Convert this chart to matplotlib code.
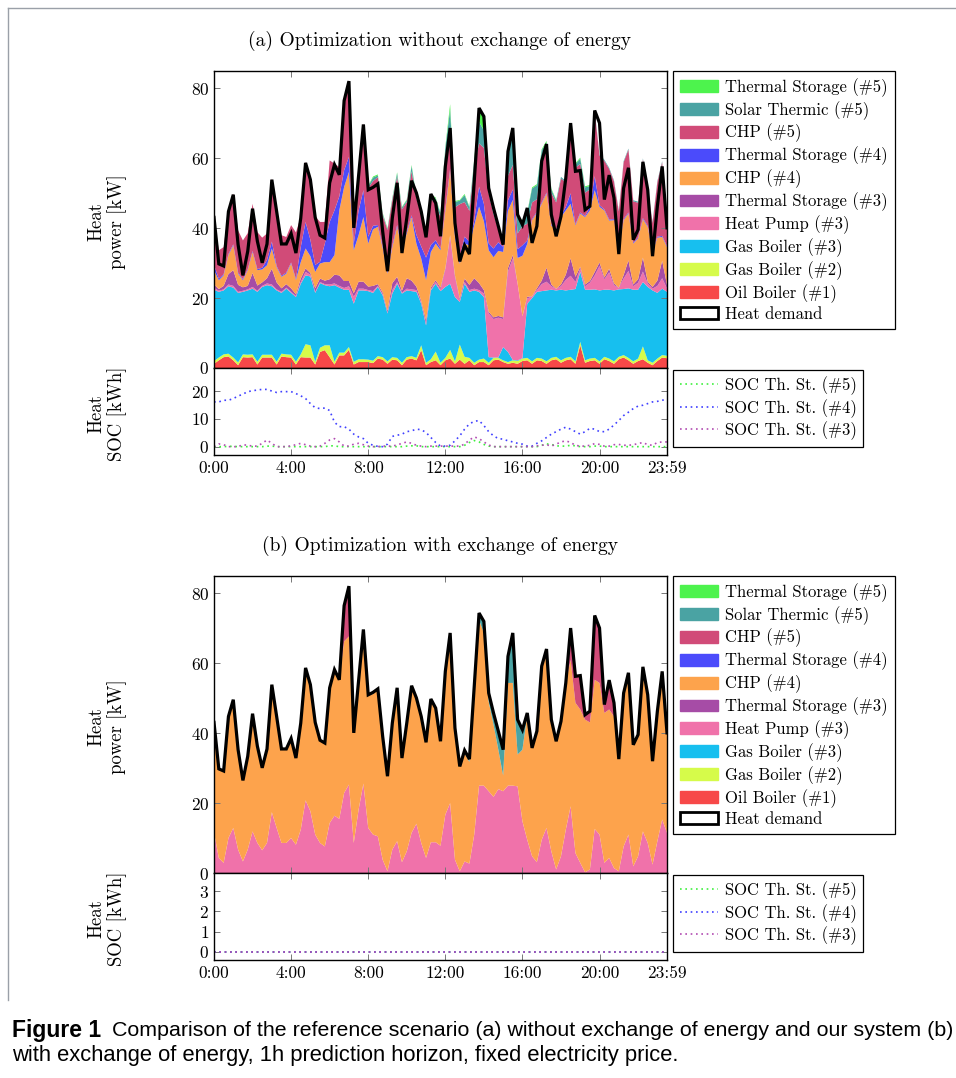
import matplotlib
matplotlib.use('Agg')
import matplotlib.pyplot as plt
import numpy as np
from matplotlib.patches import Patch
from matplotlib.lines import Line2D

plt.rcParams['font.family'] = ['cmr10', 'DejaVu Serif']
plt.rcParams['axes.formatter.use_mathtext'] = True
plt.rcParams['mathtext.fontset'] = 'cm'

# time axis: 15 min steps, 0:00 .. 23:30
hours = np.arange(95) * 0.25

demand = [43.1, 29.8, 29.2, 44.8, 49.6, 35.3, 26.5, 33.4, 45.6, 36.3, 30.1, 35.5, 53.9, 44.8, 35.5, 35.5,
          38.5, 32.9, 42.9, 58.7, 53.9, 43.1, 38.0, 37.2, 53.0, 58.2, 55.3, 76.5, 82.1, 40.1, 55.0, 69.7,
          51.0, 51.7, 52.7, 39.1, 27.7, 42.9, 53.0, 32.9, 42.9, 53.6, 50.1, 44.8, 37.4, 49.8, 47.2, 37.7,
          57.7, 68.7, 41.5, 30.5, 35.1, 32.6, 53.4, 74.4, 72.0, 51.5, 45.8, 40.6, 35.3, 62.0, 68.7, 43.9,
          41.0, 45.8, 35.8, 40.6, 59.2, 64.1, 43.9, 37.7, 43.4, 54.4, 70.1, 56.3, 56.5, 45.3, 46.3, 73.7,
          70.1, 48.2, 55.2, 48.7, 32.6, 51.5, 57.3, 36.7, 39.6, 59.0, 51.0, 32.0, 46.3, 57.7, 40.1]

# ---------- (a) without exchange ----------
a_oil = [1.2, 2.2, 3.1, 3.3, 2.2, 0.8, 3.1, 3.0, 3.1, 1.0, 3.0, 3.0, 3.0, 1.0, 3.3, 3.1,
         3.0, 1.0, 3.1, 3.0, 3.0, 1.0, 4.6, 5.1, 3.1, 1.0, 3.6, 3.6, 5.2, 1.0, 1.7, 1.7,
         1.7, 1.4, 2.7, 2.4, 1.2, 2.4, 2.2, 0.8, 2.4, 2.7, 2.2, 5.1, 0.8, 1.7, 2.2, 0.8,
         2.2, 2.7, 1.2, 2.4, 1.2, 2.2, 0.8, 1.7, 1.7, 0.8, 2.2, 2.4, 1.7, 1.2, 1.5, 1.2,
         2.0, 2.2, 1.2, 2.2, 2.0, 1.2, 2.2, 2.5, 1.5, 2.2, 2.5, 1.2, 6.5, 1.5, 2.0, 2.2,
         1.2, 2.5, 2.0, 1.2, 2.5, 3.0, 2.2, 1.2, 2.0, 2.5, 1.5, 0.8, 2.0, 3.0, 2.8]
a_gas2 = [0.8, 0.8, 0.8, 0.8, 0.8, 0.8, 0.8, 0.8, 0.8, 0.8, 0.8, 0.8, 0.8, 0.8, 0.8, 0.8,
          0.8, 0.8, 0.8, 3.8, 3.5, 0.8, 1.2, 1.4, 3.4, 0.8, 0.8, 0.8, 0.8, 0.8, 0.8, 0.8,
          0.7, 0.7, 0.7, 0.7, 0.7, 0.7, 0.7, 0.7, 0.7, 0.7, 0.7, 1.4, 0.7, 0.8, 2.5, 0.7,
          0.7, 2.5, 0.7, 4.3, 2.0, 0.7, 0.7, 0.7, 1.0, 0.7, 0.7, 0.5, 0.5, 0.5, 0.7, 0.8,
          0.7, 0.7, 0.7, 0.7, 0.7, 0.7, 0.7, 0.7, 0.7, 0.7, 0.7, 0.7, 1.0, 0.7, 0.7, 0.7,
          0.7, 0.7, 0.7, 0.7, 0.7, 0.7, 0.7, 0.7, 0.7, 3.7, 0.7, 0.7, 0.7, 0.7, 0.7]
a_gas3 = [20.4, 18.8, 18.3, 19.3, 20.0, 19.9, 17.9, 18.4, 18.8, 20.0, 19.4, 19.9, 19.6, 20.4, 17.4, 18.8,
          17.7, 18.5, 20.2, 19.7, 19.7, 19.7, 18.5, 17.2, 16.9, 21.9, 18.6, 18.0, 16.4, 16.6, 19.7, 19.7,
          19.6, 19.4, 19.8, 17.7, 13.7, 18.2, 21.2, 19.8, 19.1, 18.6, 18.9, 11.9, 10.7, 19.7, 19.4, 20.5,
          20.3, 18.9, 18.4, 12.2, 20.9, 18.9, 20.7, 19.4, 17.6, 1.6, 0.1, 0.1, 3.8, 2.9, 0.1, 0.2,
          0.1, 15.5, 18.1, 18.9, 19.3, 20.3, 19.5, 19.0, 20.2, 19.3, 19.2, 20.7, 20.0, 20.2, 19.7, 19.6,
          20.3, 19.2, 19.7, 20.3, 19.3, 18.9, 19.9, 20.5, 19.7, 18.4, 21.0, 20.7, 18.8, 19.0, 18.3]
a_hp3 = [0.5, 0.3, 0.3, 0.5, 0.5, 0.3, 0.3, 0.3, 0.5, 0.3, 0.3, 0.5, 0.5, 0.3, 0.3, 0.3,
         0.3, 0.3, 0.5, 1.0, 0.5, 0.3, 0.3, 0.3, 0.5, 0.5, 0.5, 0.5, 1.0, 2.0, 0.5, 0.5,
         0.3, 0.5, 0.3, 0.3, 0.3, 1.0, 0.5, 0.3, 0.5, 0.5, 0.5, 0.3, 0.5, 0.3, 0.5, 0.5,
         4.8, 13.4, 5.7, 0.5, 0.5, 0.5, 0.5, 0.5, 1.0, 12.5, 11.0, 11.4, 8.0, 23.0, 29.0, 22.0,
         12.0, 1.5, 0.5, 0.5, 2.0, 2.5, 1.0, 0.5, 1.0, 3.0, 4.0, 2.0, 1.0, 1.0, 2.0, 4.0,
         7.0, 3.0, 5.0, 1.5, 0.5, 3.0, 5.0, 1.0, 2.0, 3.0, 1.0, 0.5, 2.0, 3.0, 1.0]
a_ts3 = [1.0, 0.5, 1.0, 3.0, 4.5, 2.0, 1.0, 1.0, 4.0, 1.5, 1.0, 1.5, 4.5, 2.0, 1.0, 1.0,
         1.0, 0.5, 1.0, 1.0, 0.5, 1.0, 1.0, 1.0, 1.5, 2.5, 3.0, 2.0, 1.5, 1.0, 2.0, 2.0,
         1.0, 1.5, 0.5, 0.5, 0.5, 2.0, 1.5, 0.5, 3.0, 2.5, 1.0, 0.5, 1.0, 0.5, 0.5, 0.5,
         0.5, 0.5, 0.5, 0.5, 1.0, 1.5, 3.0, 2.0, 1.0, 0.5, 0.5, 0.5, 0.5, 1.0, 1.0, 0.0,
         0.0, 0.5, 0.0, 0.5, 1.0, 4.0, 0.5, 0.0, 0.5, 1.5, 5.0, 1.5, 0.5, 0.5, 0.5, 1.0,
         1.0, 0.5, 1.0, 0.5, 0.0, 1.0, 3.0, 0.5, 1.0, 4.0, 0.5, 0.5, 1.5, 5.0, 1.0]
a_chp4 = [4.1, 2.5, 3.0, 5.4, 7.1, 3.2, 2.0, 4.5, 6.0, 4.4, 3.7, 3.7, 5.8, 4.4, 3.3, 3.0,
          7.1, 4.1, 4.7, 5.7, 4.8, 4.7, 4.3, 5.3, 4.9, 5.6, 18.6, 26.9, 31.2, 12.3, 13.3, 18.5,
          12.3, 16.2, 16.4, 12.8, 10.6, 10.3, 14.3, 12.4, 12.8, 18.2, 12.3, 12.1, 11.4, 10.2, 10.5, 10.7,
          16.6, 18.6, 11.0, 9.9, 10.0, 11.3, 15.1, 21.9, 19.7, 17.6, 17.2, 18.6, 18.7, 16.4, 15.8, 7.3,
          17.3, 15.1, 21.8, 21.6, 22.0, 21.2, 16.9, 16.7, 19.3, 18.4, 15.6, 14.7, 15.2, 19.3, 20.2, 23.4,
          15.9, 19.2, 13.8, 18.1, 11.6, 15.7, 13.4, 11.7, 11.7, 11.0, 15.7, 10.0, 12.3, 6.8, 10.8]
a_ts4 = [1.5, 0.5, 0.3, 0.3, 0.3, 0.3, 0.3, 0.3, 0.3, 0.3, 0.5, 1.5, 2.0, 0.3, 0.3, 0.3,
         0.3, 0.3, 4.3, 7.6, 4.7, 2.0, 0.5, 5.3, 11.5, 12.8, 4.0, 4.8, 4.3, 1.9, 7.0, 7.7,
         2.0, 1.0, 0.5, 0.5, 0.5, 0.5, 0.5, 0.5, 0.5, 0.5, 2.5, 3.5, 6.5, 2.0, 1.0, 0.5,
         0.5, 0.5, 1.5, 2.0, 2.0, 1.0, 1.5, 5.7, 5.0, 2.0, 2.5, 2.5, 1.5, 3.0, 3.0, 2.5,
         3.0, 1.0, 0.3, 0.3, 0.3, 0.3, 0.3, 0.3, 0.5, 1.0, 3.0, 0.3, 0.3, 0.3, 1.0, 4.0,
         0.5, 0.3, 0.3, 0.3, 0.3, 0.3, 0.3, 0.3, 0.3, 0.3, 0.3, 0.3, 0.3, 0.3, 0.3]
a_chp5 = [13.5, 8.1, 7.8, 12.5, 14.5, 12.1, 11.1, 10.3, 13.5, 10.6, 8.6, 7.6, 18.0, 15.9, 11.6, 10.2,
          10.7, 13.3, 8.6, 17.2, 18.2, 13.9, 11.4, 6.2, 17.6, 13.4, 8.4, 20.2, 21.9, 4.8, 11.6, 19.1,
          13.9, 12.8, 13.7, 8.8, 12.0, 12.9, 13.8, 10.4, 8.5, 12.6, 10.4, 9.4, 6.9, 13.3, 10.4, 9.0,
          15.4, 11.9, 7.0, 15.1, 9.9, 8.9, 15.1, 12.4, 16.0, 14.3, 9.8, 3.8, 0.8, 7.0, 7.0, 4.5,
          5.5, 4.8, 4.8, 3.6, 13.0, 13.3, 9.0, 7.7, 10.5, 7.1, 19.2, 16.2, 13.9, 6.7, 5.0, 18.4,
          14.2, 13.9, 14.5, 10.8, 9.9, 16.3, 18.0, 11.8, 9.9, 16.8, 10.9, 8.0, 15.6, 21.1, 5.2]
a_solar5 = [0.0, 0.0, 0.0, 0.0, 0.0, 0.0, 0.0, 0.0, 0.0, 0.0, 0.0, 0.0, 0.0, 0.0, 0.0, 0.0,
            0.0, 0.0, 0.0, 0.0, 0.0, 0.0, 0.0, 0.0, 0.0, 0.0, 0.0, 0.0, 0.0, 0.0, 0.0, 0.0,
            0.5, 1.0, 0.5, 0.5, 0.3, 0.5, 1.0, 0.5, 0.5, 1.5, 0.5, 0.5, 0.3, 1.0, 1.5, 1.0,
            2.0, 5.0, 1.5, 1.0, 2.0, 1.0, 2.0, 6.2, 5.0, 2.0, 1.5, 1.0, 0.5, 8.0, 10.0, 4.5,
            1.5, 3.0, 4.0, 4.0, 2.0, 1.0, 1.0, 0.5, 0.5, 0.3, 0.5, 1.0, 1.5, 1.5, 1.0, 0.3,
            0.3, 0.3, 0.3, 0.3, 0.3, 0.3, 0.3, 0.3, 0.3, 0.3, 0.3, 0.3, 0.3, 0.3, 0.3]
a_ts5 = [0.0, 0.0, 0.0, 0.0, 0.0, 0.0, 0.0, 0.0, 0.0, 0.0, 0.0, 0.0, 0.0, 0.0, 0.0, 0.0,
         0.0, 0.0, 0.0, 0.0, 0.0, 0.0, 0.0, 0.0, 0.0, 0.0, 0.0, 0.0, 0.0, 0.0, 0.0, 0.0,
         0.2, 0.3, 0.3, 0.2, 0.2, 0.2, 0.3, 0.2, 0.2, 0.3, 0.2, 0.2, 0.2, 0.2, 0.3, 0.2,
         0.3, 1.5, 0.3, 0.2, 0.3, 0.2, 0.3, 3.8, 4.0, 0.3, 0.2, 0.2, 0.0, 0.5, 0.5, 0.3,
         0.2, 0.3, 0.3, 0.3, 0.3, 0.5, 0.3, 0.2, 0.0, 0.0, 0.3, 0.3, 0.3, 0.3, 0.3, 0.0,
         0.0, 0.0, 0.0, 0.0, 0.0, 0.0, 0.0, 0.0, 0.0, 0.0, 0.0, 0.0, 0.0, 0.0, 0.0]

a_soc5 = [0.0, 0.0, 0.0, 0.1, 0.1, 0.0, 0.0, 0.0, 0.0, 0.0, 0.0, 0.2, 0.2, 0.0, 0.0, 0.0,
          0.0, 0.0, 0.0, 0.0, 0.0, 0.0, 0.0, 0.0, 0.3, 0.3, 0.0, 0.0, 0.0, 0.0, 0.0, 0.0,
          0.0, 0.0, 0.0, 0.0, 0.0, 0.0, 0.0, 0.0, 0.2, 0.3, 0.3, 0.0, 0.0, 0.0, 0.0, 0.0,
          0.0, 0.0, 0.0, 0.0, 0.5, 1.5, 2.2, 1.7, 0.8, 0.2, 0.0, 0.0, 0.0, 0.0, 0.0, 0.0,
          0.0, 0.0, 0.0, 0.0, 0.5, 1.0, 0.8, 0.3, 0.2, 0.2, 0.5, 0.3, 0.0, 0.0, 0.0, 0.2,
          0.2, 0.0, 0.0, 0.0, 0.0, 0.0, 0.0, 0.0, 0.0, 0.0, 0.0, 0.0, 0.0, 0.0, 0.0]
a_soc4 = [16.1, 16.1, 16.7, 16.7, 17.3, 18.2, 18.9, 19.8, 20.1, 20.4, 20.6, 20.6, 20.0, 19.5, 19.8, 19.8,
          19.8, 19.1, 18.3, 17.3, 15.5, 14.0, 13.7, 13.9, 13.0, 8.8, 7.2, 7.2, 6.3, 4.5, 3.5, 2.9,
          1.2, 0.5, 0.1, 0.0, 0.9, 3.7, 4.1, 4.5, 5.4, 5.7, 6.3, 6.1, 5.1, 3.3, 1.5, 0.2,
          0.2, 0.5, 2.1, 3.9, 6.3, 8.2, 9.1, 9.4, 7.6, 5.4, 3.9, 2.9, 2.7, 2.1, 1.7, 1.2,
          0.9, 0.2, 0.2, 1.2, 2.1, 3.3, 4.5, 5.4, 6.3, 7.0, 6.3, 5.4, 4.5, 5.4, 6.6, 6.3,
          5.4, 5.4, 6.3, 7.8, 9.4, 11.2, 12.4, 13.7, 14.6, 14.9, 15.5, 16.1, 16.3, 16.7, 17.0]
a_soc3 = [0.0, 1.0, 0.7, 0.0, 0.0, 0.0, 0.7, 0.5, 0.2, 0.2, 1.2, 2.4, 1.2, 0.0, 0.0, 0.0,
          0.3, 0.7, 1.2, 0.7, 0.2, 0.0, 0.2, 1.2, 2.4, 2.9, 1.7, 0.2, 0.2, 0.9, 1.2, 0.7,
          0.2, 0.0, 0.0, 0.2, 0.2, 0.2, 0.6, 1.2, 1.7, 1.2, 0.5, 0.2, 0.0, 0.2, 0.2, 0.2,
          0.2, 0.2, 0.2, 0.2, 0.9, 2.4, 3.5, 2.9, 1.7, 0.6, 0.0, 0.0, 0.0, 0.0, 0.0, 0.0,
          0.0, 0.0, 0.0, 0.3, 0.5, 0.7, 0.2, 0.9, 1.7, 2.1, 1.5, 0.5, 0.2, 0.2, 0.5, 1.1,
          0.8, 0.2, 0.2, 0.7, 0.8, 0.5, 0.5, 0.7, 1.1, 1.5, 0.7, 0.5, 1.5, 1.7, 1.7]

# ---------- (b) with exchange ----------
b_zero = [0.0] * 95
b_hp3 = [11.6, 4.3, 2.9, 10.0, 12.9, 6.7, 3.3, 6.7, 11.9, 8.6, 6.5, 8.6, 17.4, 12.9, 8.6, 8.6,
         10.0, 8.1, 12.4, 20.8, 17.7, 11.0, 8.6, 7.6, 14.3, 16.4, 15.5, 22.9, 25.3, 8.6, 18.1, 25.6,
         12.9, 11.0, 10.5, 3.8, 0.5, 6.7, 9.1, 3.1, 6.2, 11.5, 14.1, 8.6, 4.3, 8.8, 8.8, 7.8,
         16.7, 20.0, 3.8, 0.5, 3.3, 2.7, 11.0, 25.0, 25.0, 23.4, 21.8, 24.0, 23.4, 25.0, 25.0, 24.8,
         14.8, 9.5, 4.8, 3.1, 9.5, 12.9, 6.2, 1.0, 4.8, 12.4, 19.1, 5.7, 2.9, 0.2, 1.0, 12.6,
         11.0, 2.9, 4.3, 1.4, 0.5, 7.6, 11.0, 1.9, 4.8, 11.9, 8.6, 2.4, 9.1, 15.3, 11.5]
b_chp4 = [31.5, 25.5, 26.3, 34.8, 36.7, 28.6, 23.2, 26.7, 33.7, 27.7, 23.6, 26.9, 36.5, 31.9, 26.9, 26.9,
          28.5, 24.8, 30.5, 37.9, 36.2, 32.1, 29.4, 29.6, 38.7, 41.8, 39.8, 43.4, 42.4, 31.5, 36.9, 43.6,
          38.1, 40.2, 42.2, 35.3, 27.2, 36.2, 43.9, 29.8, 36.7, 42.1, 36.0, 36.2, 33.1, 41.0, 38.4, 29.9,
          41.0, 48.2, 37.7, 30.0, 31.0, 29.1, 42.4, 47.4, 43.7, 25.6, 20.7, 11.3, 4.5, 29.4, 29.4, 9.1,
          20.5, 35.8, 31.0, 37.5, 49.2, 50.2, 37.7, 36.7, 38.6, 42.0, 41.9, 43.0, 43.9, 43.7, 42.1, 42.7,
          43.4, 42.9, 42.5, 43.4, 32.1, 43.9, 46.3, 34.8, 34.8, 47.1, 42.4, 29.6, 37.2, 42.4, 28.6]
b_chp5 = [0.0, 0.0, 0.0, 0.0, 0.0, 0.0, 0.0, 0.0, 0.0, 0.0, 0.0, 0.0, 0.0, 0.0, 0.0, 0.0,
          0.0, 0.0, 0.0, 0.0, 0.0, 0.0, 0.0, 0.0, 0.0, 0.0, 0.0, 10.2, 14.4, 0.0, 0.0, 0.0,
          0.0, 0.0, 0.0, 0.0, 0.0, 0.0, 0.0, 0.0, 0.0, 0.0, 0.0, 0.0, 0.0, 0.0, 0.0, 0.0,
          0.0, 0.0, 0.0, 0.0, 0.0, 0.0, 0.0, 0.0, 0.0, 0.0, 0.0, 0.0, 0.0, 0.0, 0.0, 0.0,
          0.0, 0.0, 0.0, 0.0, 0.5, 1.0, 0.0, 0.0, 0.0, 0.0, 9.1, 7.6, 9.7, 1.4, 3.2, 18.4,
          15.7, 2.4, 8.4, 3.9, 0.0, 0.0, 0.0, 0.0, 0.0, 0.0, 0.0, 0.0, 0.0, 0.0, 0.0]
b_solar5 = [0.0, 0.0, 0.0, 0.0, 0.0, 0.0, 0.0, 0.0, 0.0, 0.0, 0.0, 0.0, 0.0, 0.0, 0.0, 0.0,
            0.0, 0.0, 0.0, 0.0, 0.0, 0.0, 0.0, 0.0, 0.0, 0.0, 0.0, 0.0, 0.0, 0.0, 0.0, 0.5,
            0.0, 0.5, 0.0, 0.0, 0.0, 0.0, 0.0, 0.0, 0.0, 0.0, 0.0, 0.0, 0.0, 0.0, 0.0, 0.0,
            0.0, 0.5, 0.0, 0.0, 0.8, 0.8, 0.0, 2.0, 3.3, 2.5, 3.3, 5.3, 7.4, 7.6, 14.3, 10.0,
            5.7, 0.5, 0.0, 0.0, 0.0, 0.0, 0.0, 0.0, 0.0, 0.0, 0.0, 0.0, 0.0, 0.0, 0.0, 0.0,
            0.0, 0.0, 0.0, 0.0, 0.0, 0.0, 0.0, 0.0, 0.0, 0.0, 0.0, 0.0, 0.0, 0.0, 0.0]
b_soc = [0.0] * 95

names = ['Oil Boiler (#1)', 'Gas Boiler (#2)', 'Gas Boiler (#3)', 'Heat Pump (#3)',
         'Thermal Storage (#3)', 'CHP (#4)', 'Thermal Storage (#4)', 'CHP (#5)',
         'Solar Thermic (#5)', 'Thermal Storage (#5)']
colors = ['#f74848', '#d6fb4a', '#17bfef', '#f072aa', '#a64ca6', '#fda34c',
          '#4b4bfb', '#d14b78', '#4aa3a3', '#4df34d']
soc_names = ['SOC Th. St. (#5)', 'SOC Th. St. (#4)', 'SOC Th. St. (#3)']
soc_colors = ['#3ef03e', '#4040ff', '#b24cb2']

W, H = 956, 1078
fig = plt.figure(figsize=(W / 100, H / 100), dpi=100)


def box(l, t, r, b):
    return [l / W, 1 - b / H, (r - l) / W, (b - t) / H]


def style(ax):
    ax.tick_params(direction='in', top=True, right=True, length=4, width=0.7,
                   color='#777777', labelsize=12.5)
    for s in ax.spines.values():
        s.set_linewidth(1.0)
    ax.set_xlim(hours[0], hours[-1])
    ax.set_xticks([0, 4, 8, 12, 16, 20, hours[-1]])


def panel(top, title, series, socs, soc_ylim, soc_ticks):
    ax = fig.add_axes(box(214, top, 667, top + 297))
    ax2 = fig.add_axes(box(214, top + 297, 667, top + 384))
    ax.stackplot(hours, *series, colors=colors, lw=0)
    ax.plot(hours, demand, color='black', lw=2.3, solid_joinstyle='miter')
    ax.set_ylim(0, 85)
    ax.set_yticks([0, 20, 40, 60, 80])
    style(ax)
    ax.set_xticklabels([])
    for vals, c in zip(socs, soc_colors):
        ax2.plot(hours, vals, color=c, lw=1.2, ls=(0, (1, 2.2)))
    ax2.set_ylim(*soc_ylim)
    ax2.set_yticks(soc_ticks)
    style(ax2)
    ax2.set_xticklabels(['0:00', '4:00', '8:00', '12:00', '16:00', '20:00', '23:59'])
    ax2.tick_params(axis='x', pad=4)

    handles = [Patch(facecolor=c, edgecolor=c, label=n) for n, c in zip(names[::-1], colors[::-1])]
    handles.append(Patch(facecolor='white', edgecolor='black', lw=2, label='Heat demand'))
    leg = ax.legend(handles=handles, loc='upper left', bbox_to_anchor=(1.013, 1.0),
                    borderaxespad=0, fontsize=12, fancybox=False, edgecolor='black',
                    framealpha=1, handlelength=2.3, handleheight=0.72, handletextpad=0.4,
                    labelspacing=0.25, borderpad=0.42)
    leg.get_frame().set_linewidth(0.9)
    sh = [Line2D([], [], color=c, lw=1.2, ls=(0, (1, 2.2)), label=n)
          for n, c in zip(soc_names, soc_colors)]
    leg2 = ax2.legend(handles=sh, loc='upper left', bbox_to_anchor=(1.013, 0.98),
                      borderaxespad=0, fontsize=12, fancybox=False, edgecolor='black',
                      framealpha=1, handlelength=2.3, handletextpad=0.4,
                      labelspacing=0.22, borderpad=0.4)
    leg2.get_frame().set_linewidth(0.9)

    fig.text(440 / W, 1 - (top - 30) / H, title, ha='center', va='center', fontsize=14)
    fig.text(107 / W, 1 - (top + 151) / H, 'Heat\npower [kW]', rotation=90, ha='center',
             va='center', fontsize=13.5, multialignment='center', linespacing=1.1)
    fig.text(107 / W, 1 - (top + 343) / H, 'Heat\nSOC [kWh]', rotation=90, ha='center',
             va='center', fontsize=13.5, multialignment='center', linespacing=1.1)


a_series = [a_oil, a_gas2, a_gas3, a_hp3, a_ts3, a_chp4, a_ts4, a_chp5, a_solar5, a_ts5]
b_series = [b_zero, b_zero, b_zero, b_hp3, b_zero, b_chp4, b_zero, b_chp5, b_solar5, b_zero]

panel(71, '(a) Optimization without exchange of energy', a_series,
      [a_soc5, a_soc4, a_soc3], (-3, 28.3), [0, 10, 20])
panel(576, '(b) Optimization with exchange of energy', b_series,
      [b_soc, b_soc, b_soc], (-0.4, 3.9), [0, 1, 2, 3])

# frame and caption
fig.add_artist(Line2D([8 / W, 8 / W], [1 - 8 / H, 1 - 1000 / H], color='#9aa0a8', lw=1.0))
fig.add_artist(Line2D([8 / W, 1], [1 - 8 / H, 1 - 8 / H], color='#9aa0a8', lw=1.0))
fig.text(12 / W, 1 - 1031 / H, 'Figure 1', fontsize=16.5, fontweight='bold',
         family='Liberation Sans', va='center')
fig.text(112 / W, 1 - 1031 / H,
         'Comparison of the reference scenario (a) without exchange of energy and our system (b)',
         fontsize=15.4, family='Liberation Sans', va='center')
fig.text(12 / W, 1 - 1056 / H,
         'with exchange of energy, 1h prediction horizon, fixed electricity price.',
         fontsize=15.8, family='Liberation Sans', va='center')

fig.savefig('out.png', dpi=100)
